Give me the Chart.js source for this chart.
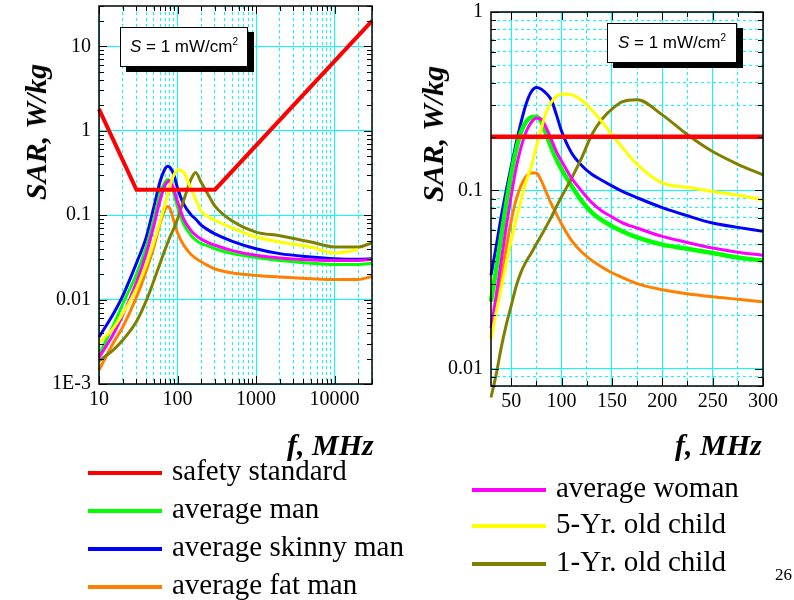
<!DOCTYPE html>
<html lang="en">
<head>
<meta charset="utf-8">
<title>SAR vs frequency</title>
<script src="https://cdn.jsdelivr.net/npm/chart.js@4.4.1/dist/chart.umd.min.js"></script>
<style>
  html, body { margin: 0; padding: 0; background: #fff; }
  body { position: relative; width: 794px; height: 600px; overflow: hidden;
         font-family: "Liberation Serif", "Times New Roman", serif; color: #000; }
  canvas { position: absolute; top: -20px; }
  #leftChart { left: 0; }
  #rightChart { left: 400px; }
  .ytitle { position: absolute; font-style: italic; font-weight: bold; font-size: 30px; line-height: 34px;
            white-space: nowrap; transform: translate(-50%, -50%) rotate(-90deg); }
  .xtitle { position: absolute; font-style: italic; font-weight: bold; font-size: 30px; line-height: 34px; white-space: nowrap; }
  .sbox { position: absolute; background: #fff; border: 1px solid #000; box-shadow: 6px 5px 0 #000;
          font-family: "Liberation Sans", Arial, sans-serif; font-size: 17px; line-height: 38px;
          text-align: center; box-sizing: border-box; height: 40px; }
  .sbox sup { font-size: 10px; line-height: 0; }
  .leg { position: absolute; font-size: 29px; line-height: 34px; white-space: nowrap; }
  .leg span { display: inline-block; width: 74px; height: 4px; vertical-align: middle; margin-right: 10px; }
  #page { position: absolute; left: 775px; top: 565px; font-size: 17px; line-height: 20px; }
</style>
</head>
<body>
<canvas id="leftChart" width="400" height="450"></canvas>
<canvas id="rightChart" width="394" height="450"></canvas>

<div class="ytitle" style="left:36px; top:132px;">SAR, W/kg</div>
<div class="ytitle" style="left:433px; top:134px;">SAR, W/kg</div>
<div class="xtitle" style="left:287px; top:428px;">f, MHz</div>
<div class="xtitle" style="left:675px; top:428px;">f, MHz</div>

<div class="sbox" style="left:120px; top:27px; width:128px;"><i>S</i> = 1 mW/cm<sup>2</sup></div>
<div class="sbox" style="left:607px; top:23px; width:130px;"><i>S</i> = 1 mW/cm<sup>2</sup></div>

<div class="leg" style="left:88px; top:453px;"><span style="background:#ff0000"></span>safety standard</div>
<div class="leg" style="left:88px; top:491px;"><span style="background:#00ff00"></span>average man</div>
<div class="leg" style="left:88px; top:529px;"><span style="background:#0000ff"></span>average skinny man</div>
<div class="leg" style="left:88px; top:567px;"><span style="background:#ff8000"></span>average fat man</div>
<div class="leg" style="left:472px; top:470px;"><span style="background:#ff00ff"></span>average woman</div>
<div class="leg" style="left:472px; top:506px;"><span style="background:#ffff00"></span>5-Yr. old child</div>
<div class="leg" style="left:472px; top:544px;"><span style="background:#808000"></span>1-Yr. old child</div>
<div id="page">26</div>

<script>
// Left panel: 10 MHz - 30 GHz, log-log
const leftFreq = [10, 15, 20, 30, 40, 50, 60, 70, 75, 80, 90, 100, 120, 150, 170, 200, 250, 300, 500, 1000, 2000, 5000, 10000, 20000, 30000];
const leftMan     = [0.0022, 0.0048, 0.0088, 0.020, 0.042, 0.09, 0.18, 0.25, 0.265, 0.25, 0.18, 0.125, 0.078, 0.057, 0.051, 0.046, 0.043, 0.040, 0.035, 0.0315, 0.029, 0.027, 0.026, 0.026, 0.027];
const leftSkinny  = [0.0036, 0.0066, 0.011, 0.027, 0.055, 0.125, 0.25, 0.36, 0.38, 0.37, 0.30, 0.21, 0.135, 0.10, 0.09, 0.076, 0.066, 0.06, 0.049, 0.040, 0.035, 0.032, 0.0305, 0.030, 0.0305];
const leftFat     = [0.00146, 0.003, 0.0047, 0.0107, 0.022, 0.042, 0.08, 0.12, 0.127, 0.12, 0.085, 0.062, 0.044, 0.034, 0.031, 0.028, 0.025, 0.023, 0.0206, 0.0193, 0.0185, 0.0177, 0.0173, 0.0173, 0.0188];
const leftWoman   = [0.00206, 0.0038, 0.0065, 0.016, 0.035, 0.075, 0.15, 0.23, 0.25, 0.255, 0.20, 0.145, 0.09, 0.065, 0.058, 0.052, 0.047, 0.044, 0.038, 0.0334, 0.031, 0.0295, 0.029, 0.029, 0.030];
const leftChild5  = [0.0031, 0.0045, 0.0068, 0.0135, 0.026, 0.048, 0.085, 0.14, 0.175, 0.22, 0.30, 0.345, 0.32, 0.20, 0.155, 0.112, 0.095, 0.087, 0.07, 0.055, 0.048, 0.042, 0.0355, 0.039, null];
const leftChild1  = [0.00188, 0.0025, 0.0033, 0.0055, 0.0097, 0.0168, 0.027, 0.04, 0.047, 0.055, 0.07, 0.09, 0.15, 0.27, 0.32, 0.245, 0.17, 0.128, 0.085, 0.063, 0.057, 0.048, 0.042, 0.042, 0.047];
const leftSafetyFreq = [10, 30, 300, 30000];
const leftSafety     = [1.8, 0.2, 0.2, 20];

// Right panel: 30 - 300 MHz, linear x, log y
const rightFreq = [30, 35, 40, 45, 50, 55, 60, 65, 70, 75, 80, 85, 90, 95, 100, 110, 120, 130, 140, 150, 160, 175, 200, 225, 250, 275, 300];
const rightMan    = [0.0238, 0.0356, 0.0546, 0.0836, 0.123, 0.169, 0.214, 0.243, 0.257, 0.259, 0.243, 0.205, 0.173, 0.149, 0.131, 0.106, 0.0873, 0.0752, 0.068, 0.063, 0.059, 0.0545, 0.0496, 0.047, 0.0445, 0.042, 0.0404];
const rightSkinny = [0.0334, 0.048, 0.0705, 0.099, 0.136, 0.184, 0.243, 0.307, 0.357, 0.377, 0.369, 0.349, 0.32, 0.265, 0.215, 0.162, 0.138, 0.123, 0.114, 0.106, 0.099, 0.091, 0.080, 0.072, 0.0656, 0.062, 0.0589];
const rightFat    = [0.015, 0.022, 0.032, 0.047, 0.067, 0.089, 0.107, 0.12, 0.125, 0.125, 0.113, 0.097, 0.0836, 0.0736, 0.0647, 0.0523, 0.0451, 0.0405, 0.0372, 0.0345, 0.0325, 0.030, 0.0277, 0.0263, 0.0253, 0.0245, 0.0237];
const rightWoman  = [0.0169, 0.0253, 0.0396, 0.062, 0.093, 0.134, 0.176, 0.214, 0.241, 0.254, 0.251, 0.223, 0.192, 0.165, 0.146, 0.117, 0.099, 0.0854, 0.0767, 0.071, 0.066, 0.0615, 0.0552, 0.051, 0.0475, 0.045, 0.0432];
const rightChild5 = [0.0146, 0.0205, 0.0282, 0.0388, 0.0523, 0.069, 0.0891, 0.113, 0.136, 0.176, 0.223, 0.276, 0.313, 0.337, 0.347, 0.344, 0.32, 0.282, 0.243, 0.205, 0.175, 0.14, 0.11, 0.104, 0.0986, 0.094, 0.0886];
const rightChild1 = [0.0069, 0.0092, 0.013, 0.0175, 0.0225, 0.029, 0.035, 0.040, 0.0445, 0.050, 0.056, 0.063, 0.071, 0.081, 0.092, 0.117, 0.152, 0.205, 0.25, 0.285, 0.313, 0.322, 0.265, 0.205, 0.165, 0.14, 0.122];
const rightSafetyFreq = [30, 300];
const rightSafety     = [0.2, 0.2];

// tick labels
const leftXTickValues  = [10, 100, 1000, 10000];
const leftXTickLabels  = ['10', '100', '1000', '10000'];
const leftYTickValues  = [0.001, 0.01, 0.1, 1, 10];
const leftYTickLabels  = ['1E-3', '0.01', '0.1', '1', '10'];
const rightXTickValues = [50, 100, 150, 200, 250, 300];
const rightXTickLabels = ['50', '100', '150', '200', '250', '300'];
const rightYTickValues = [0.01, 0.1, 1];
const rightYTickLabels = ['0.01', '0.1', '1'];

const CYAN = '#00ffff';
const tickFont = { family: '"Liberation Serif", "Times New Roman", serif', size: 20 };

function sameValue(a, b) { return Math.abs(a - b) <= Math.abs(b) * 1e-6; }

function labelFor(v, values, labels) {
    const i = values.findIndex(t => sameValue(v, t));
    return i < 0 ? '' : labels[i];
}

// all 1..9 x 10^n positions inside [min, max]
function logTickPositions(min, max) {
    const out = [];
    for (let e = Math.floor(Math.log10(min)); e <= Math.ceil(Math.log10(max)); e++) {
        for (let m = 1; m <= 9; m++) {
            const v = +(m * Math.pow(10, e)).toPrecision(6);
            if (v >= min * 0.999 && v <= max * 1.001) out.push(v);
        }
    }
    return out;
}

function linTickPositions(start, end, step) {
    const out = [];
    for (let v = start; v <= end; v += step) out.push(v);
    return out;
}

function axis(type, min, max, positions, labelValues, labelTexts, minorGrid, size, isX) {
    return {
        type: type, min: min, max: max, bounds: 'data',
        afterBuildTicks: s => {
            s.ticks = positions.map(v => ({ value: v, major: labelValues.some(t => sameValue(v, t)) }));
        },
        afterFit: s => { if (isX) s.height = size; else s.width = size; },
        ticks: {
            autoSkip: false, maxRotation: 0, minRotation: 0,
            padding: isX ? 4 : 8, color: '#000', font: tickFont,
            callback: v => labelFor(v, labelValues, labelTexts)
        },
        grid: {
            drawTicks: false, lineWidth: 1,
            color: c => (c.tick && !c.tick.major && !minorGrid) ? 'rgba(0,0,0,0)' : CYAN
        },
        border: { display: false, dash: c => (c.tick && !c.tick.major) ? [3, 3] : [] }
    };
}

function series(label, color, freq, vals, width, order, smooth) {
    return {
        label: label,
        data: freq.map((f, i) => ({ x: f, y: vals[i] })),
        borderColor: color,
        backgroundColor: color,
        borderWidth: width,
        pointRadius: 0,
        cubicInterpolationMode: smooth ? 'monotone' : 'default',
        tension: 0,
        clip: false,
        order: order
    };
}

// black frame plus short inward ticks on all four sides
const frameTicks = {
    id: 'frameTicks',
    afterDraw(chart) {
        const { ctx, chartArea: a, scales } = chart;
        ctx.save();
        ctx.strokeStyle = '#000';
        ctx.lineWidth = 1;
        ctx.beginPath();
        scales.x.ticks.forEach(t => {
            const px = Math.round(scales.x.getPixelForValue(t.value)) + 0.5;
            const len = t.major ? 8 : 5;
            ctx.moveTo(px, a.bottom); ctx.lineTo(px, a.bottom - len);
            ctx.moveTo(px, a.top); ctx.lineTo(px, a.top + len);
        });
        scales.y.ticks.forEach(t => {
            const py = Math.round(scales.y.getPixelForValue(t.value)) + 0.5;
            const len = t.major ? 8 : 5;
            ctx.moveTo(a.left, py); ctx.lineTo(a.left + len, py);
            ctx.moveTo(a.right, py); ctx.lineTo(a.right - len, py);
        });
        ctx.stroke();
        ctx.lineWidth = 1.5;
        ctx.strokeRect(a.left, a.top, a.right - a.left, a.bottom - a.top);
        ctx.restore();
    }
};

const commonOptions = {
    responsive: false,
    animation: false,
    devicePixelRatio: 1,
    plugins: { legend: { display: false }, tooltip: { enabled: false } }
};

// canvases sit 20px above the page top, so padding.top is 20 more than the plot top
new Chart(document.getElementById('leftChart'), {
    type: 'line',
    data: {
        datasets: [
            series('safety standard', '#ff0000', leftSafetyFreq, leftSafety, 4, 0, false),
            series('average man', '#00ff00', leftFreq, leftMan, 3, 4, true),
            series('average skinny man', '#0000ff', leftFreq, leftSkinny, 3, 5, true),
            series('average fat man', '#ff8000', leftFreq, leftFat, 3, 6, true),
            series('average woman', '#ff00ff', leftFreq, leftWoman, 3, 2, true),
            series('5-Yr. old child', '#ffff00', leftFreq, leftChild5, 3, 1, true),
            series('1-Yr. old child', '#808000', leftFreq, leftChild1, 3, 3, true)
        ]
    },
    options: Object.assign({}, commonOptions, {
        layout: { padding: { top: 26, right: 28, left: 0, bottom: 0 } },
        scales: {
            x: axis('logarithmic', 10, 30000, logTickPositions(10, 30000), leftXTickValues, leftXTickLabels, true, 46, true),
            y: axis('logarithmic', 0.001, 30, logTickPositions(0.001, 30), leftYTickValues, leftYTickLabels, false, 99, false)
        }
    }),
    plugins: [frameTicks]
});

new Chart(document.getElementById('rightChart'), {
    type: 'line',
    data: {
        datasets: [
            series('safety standard', '#ff0000', rightSafetyFreq, rightSafety, 4.5, 0, false),
            series('average man', '#00ff00', rightFreq, rightMan, 4.5, 4, true),
            series('average skinny man', '#0000ff', rightFreq, rightSkinny, 3, 5, true),
            series('average fat man', '#ff8000', rightFreq, rightFat, 3, 6, true),
            series('average woman', '#ff00ff', rightFreq, rightWoman, 3, 2, true),
            series('5-Yr. old child', '#ffff00', rightFreq, rightChild5, 3, 1, true),
            series('1-Yr. old child', '#808000', rightFreq, rightChild1, 3, 3, true)
        ]
    },
    options: Object.assign({}, commonOptions, {
        layout: { padding: { top: 32, right: 31, left: 0, bottom: 0 } },
        scales: {
            x: axis('linear', 30, 300, linTickPositions(50, 300, 25), rightXTickValues, rightXTickLabels, true, 44, true),
            y: axis('logarithmic', 0.008, 1, logTickPositions(0.008, 1), rightYTickValues, rightYTickLabels, true, 91, false)
        }
    }),
    plugins: [frameTicks]
});
</script>
</body>
</html>
